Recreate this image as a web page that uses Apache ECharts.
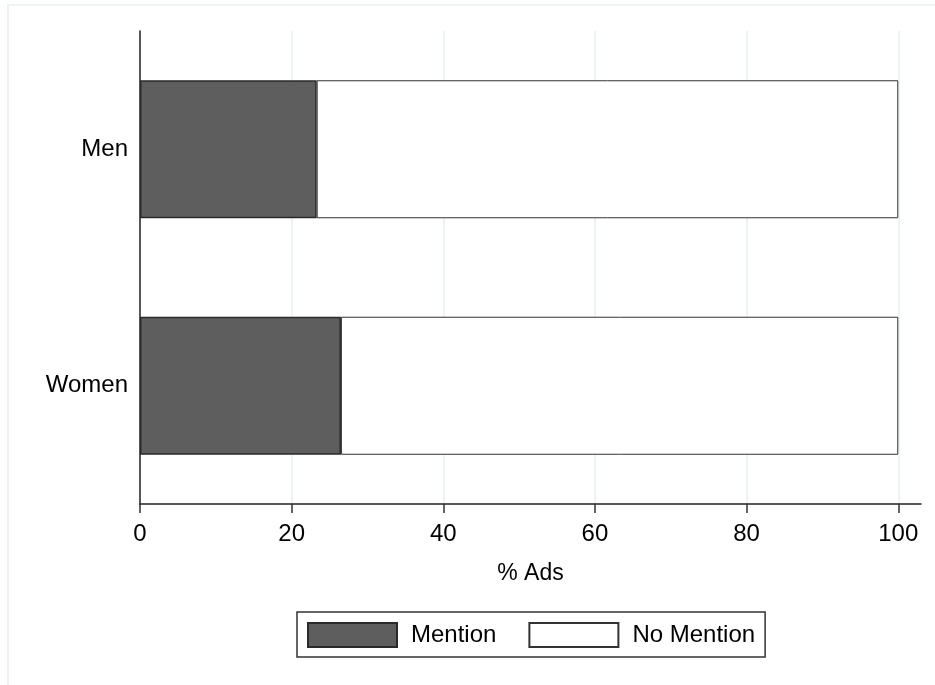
<!DOCTYPE html>
<html>
<head>
<meta charset="utf-8">
<script src="https://cdn.jsdelivr.net/npm/echarts@6/dist/echarts.min.js"></script>
<style>
html,body{margin:0;padding:0;background:#fff;}
#chart{width:935px;height:685px;}
</style>
</head>
<body>
<div id="chart"></div>
<script>
var categories = ['Women', 'Men'];
var mention = [26.5, 23.3];
var noMention = [73.5, 76.7];
var xTicks = [0, 20, 40, 60, 80, 100];
var seriesNames = ['Mention', 'No Mention'];

var FONT = 'Liberation Sans, Arial, sans-serif';
var chart = echarts.init(document.getElementById('chart'), null, {renderer: 'canvas'});
chart.setOption({
  backgroundColor: '#ffffff',
  animation: false,
  graphic: [{
    type: 'rect',
    shape: {x: 8, y: 5, width: 940, height: 700},
    style: {fill: 'none', stroke: '#eef2f2', lineWidth: 2},
    silent: true
  }],
  grid: {left: 140, right: 14, top: 31, bottom: 181, containLabel: false},
  xAxis: {
    type: 'value',
    min: 0, max: 103, interval: 20,
    name: '% Ads',
    nameLocation: 'middle',
    nameGap: 58,
    nameTextStyle: {fontFamily: FONT, fontSize: 23, color: '#000'},
    axisLine: {show: true, lineStyle: {color: '#222', width: 1.5}},
    axisTick: {show: true, inside: false, length: 9, lineStyle: {color: '#333', width: 1.5}, customValues: xTicks},
    axisLabel: {fontFamily: FONT, fontSize: 24, color: '#000', margin: 18, customValues: xTicks},
    splitLine: {show: true, lineStyle: {color: '#e8eeee', width: 1.5}}
  },
  yAxis: {
    type: 'category',
    data: categories,
    axisLine: {show: true, lineStyle: {color: '#222', width: 1.5}},
    axisTick: {show: false},
    axisLabel: {fontFamily: FONT, fontSize: 24, color: '#000', margin: 12},
    splitLine: {show: false}
  },
  legend: {
    left: 297, top: 612,
    padding: [10, 10, 9, 10],
    borderColor: '#333', borderWidth: 1.5,
    backgroundColor: '#fff',
    itemWidth: 89, itemHeight: 24,
    itemGap: 32,
    icon: 'rect',
    textStyle: {fontFamily: FONT, fontSize: 24, color: '#000', padding: [0, 0, 0, 9]},
    data: seriesNames
  },
  series: [{
    name: seriesNames[0],
    type: 'bar',
    stack: 'total',
    barWidth: 138,
    data: mention,
    itemStyle: {color: '#5e5e5e', borderColor: '#2a2a2a', borderWidth: 1.5}
  }, {
    name: seriesNames[1],
    type: 'bar',
    stack: 'total',
    barWidth: 138,
    data: noMention,
    itemStyle: {color: '#ffffff', borderColor: '#333333', borderWidth: 1}
  }]
});
</script>
</body>
</html>
